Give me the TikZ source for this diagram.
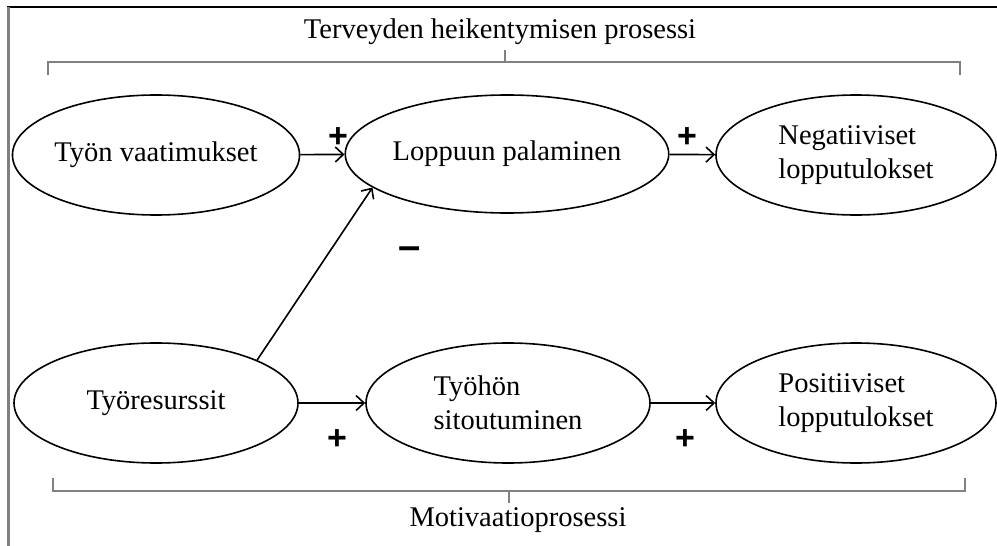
\documentclass[tikz,border=0pt]{standalone}
\usepackage{fontspec}
\setmainfont{Liberation Serif}
\newfontfamily\signfont{Liberation Sans}
\usetikzlibrary{arrows.meta,shapes.geometric}
\begin{document}
\begin{tikzpicture}[x=1pt,y=-1pt,
  blob/.style={draw, ellipse, line width=1.6pt, inner sep=0pt, minimum width=284pt, minimum height=120pt, align=left, font=\fontsize{28.5}{34}\selectfont},
  conn/.style={line width=1.6pt, -{Straight Barb[length=8pt,width=15pt]}},
  sign/.style={font=\signfont\bfseries\fontsize{34}{34}\selectfont, inner sep=0pt},
  bracketline/.style={draw=black!50, line width=2pt},
  lbl/.style={font=\fontsize{28.5}{34}\selectfont, inner sep=0pt}]
\useasboundingbox (0,0) rectangle (997,546);
% frame
\draw[black, line width=2pt] (7,7) -- (997,7);
\draw[black!50, line width=3pt] (8,7) -- (8,546);
% top bracket
\node[lbl] (title) at (500,32) {Terveyden heikentymisen prosessi};
\draw[bracketline] (48,75) -- (48,62) -- (960,62) -- (960,75);
\draw[bracketline] (505,62) -- (505,50);
% bottom bracket
\node[lbl] (mot) at (518,520) {Motivaatioprosessi};
\draw[bracketline] (53,478) -- (53,491) -- (965,491) -- (965,478);
\draw[bracketline] (509,491) -- (509,503);
% nodes
\node[blob] (A) at (156,155) {Työn vaatimukset};
\node[blob, minimum height=118pt] (B) at (507,154) {Loppuun palaminen};
\node[blob, minimum width=280pt] (C) at (856,155) {Negatiiviset\\lopputulokset};
\node[blob] (D) at (156,403) {Työresurssit};
\node[blob] (E) at (508,403) {Työhön\\sitoutuminen};
\node[blob, minimum width=280pt] (F) at (856,403) {Positiiviset\\lopputulokset};
% connectors
\draw[conn] (A) -- (B);
\draw[conn] (B) -- (C);
\draw[conn] (D) -- (E);
\draw[conn] (E) -- (F);
\draw[conn] (D.23) -- (B.194);
% signs
\node[sign] (p1) at (338,138) {+};
\node[sign] (p2) at (687,138) {+};
\node[sign] (p3) at (337,440) {+};
\node[sign] (p4) at (685,440) {+};
\node[sign, font=\signfont\bfseries\fontsize{40}{40}\selectfont] (m1) at (410,253) {–};
\end{tikzpicture}
\end{document}
